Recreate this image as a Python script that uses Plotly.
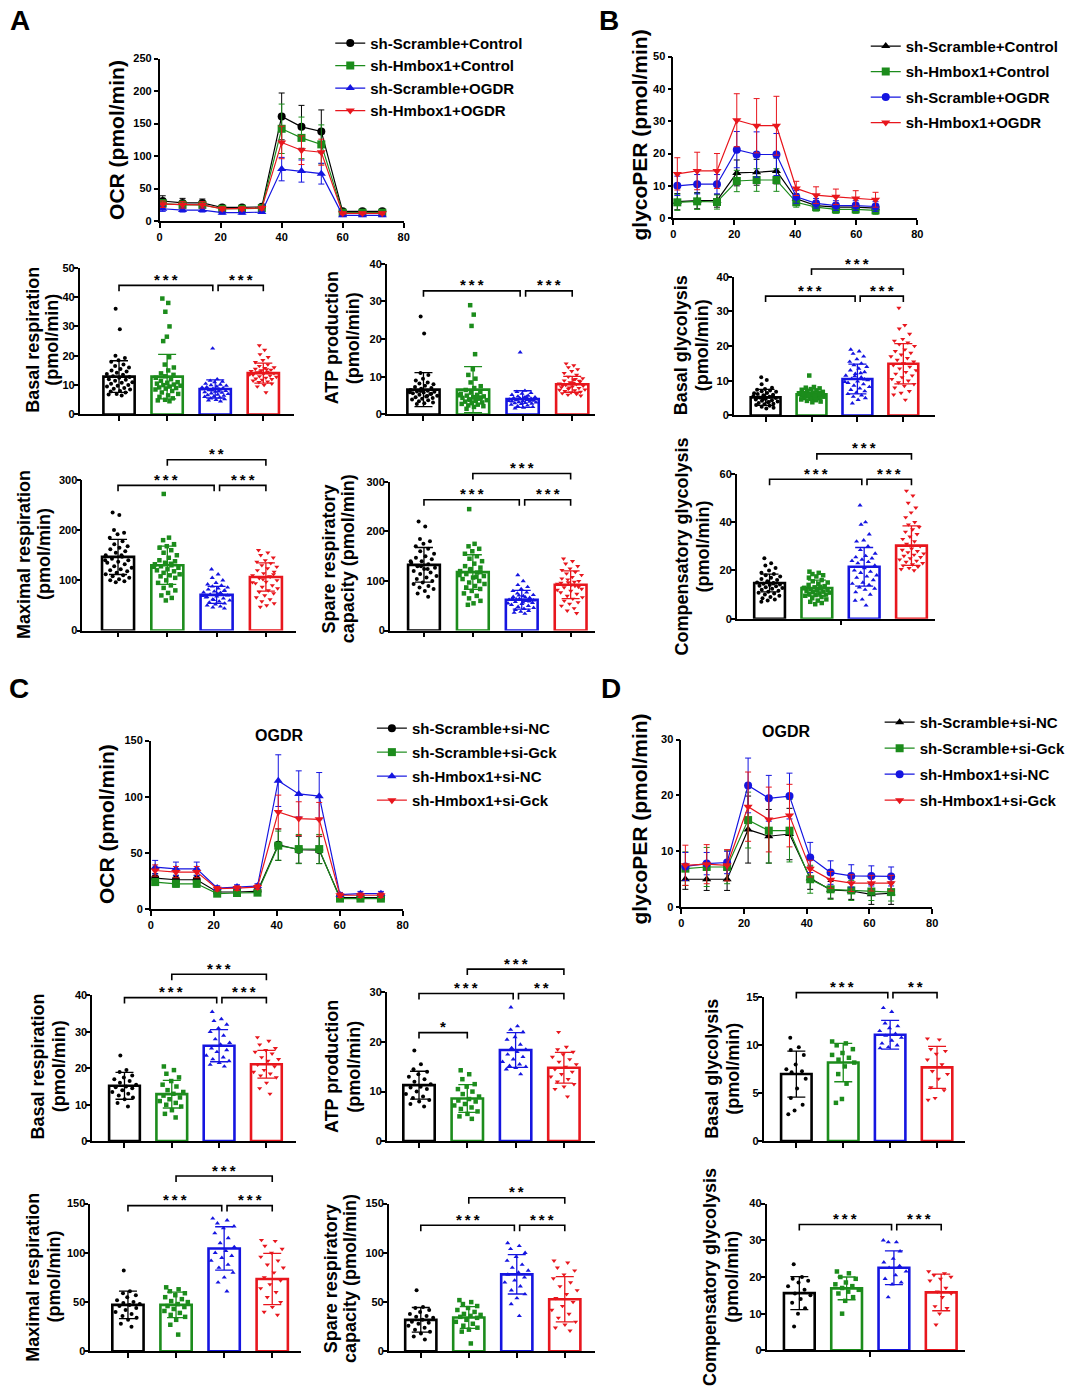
import numpy as np
import plotly.graph_objects as go

W, H = 1080, 1396
FONT = "Arial, 'Liberation Sans', Helvetica, sans-serif"
COLORS = ['#000000', '#1c8c1c', '#1515e0', '#e8161d']
BAR_SYMBOLS = ['circle', 'square', 'triangle-up', 'triangle-down']

# ---------------- line-chart data ----------------
NAMES_AB = ['sh-Scramble+Control', 'sh-Hmbox1+Control', 'sh-Scramble+OGDR', 'sh-Hmbox1+OGDR']
NAMES_CD = ['sh-Scramble+si-NC', 'sh-Scramble+si-Gck', 'sh-Hmbox1+si-NC', 'sh-Hmbox1+si-Gck']
SYM_A = ['circle', 'square', 'triangle-up', 'triangle-down']
SYM_B = ['triangle-up', 'square', 'circle', 'triangle-down']

T_A = [1, 7.5, 14, 20.5, 27, 33.5, 40, 46.5, 53, 60, 66.5, 73]
OCR_A_MEAN = [
    [31, 28, 28, 21, 21, 22, 161, 145, 138, 15, 15, 15],
    [27, 25, 25, 19, 19, 20, 142, 128, 118, 13, 13, 13],
    [19, 17, 17, 13, 13, 14, 80, 77, 73, 9, 9, 9],
    [26, 25, 25, 19, 19, 20, 121, 109, 106, 12, 12, 12],
]
OCR_A_SD = [
    [8, 7, 6, 3, 3, 3, 36, 33, 33, 3, 2, 2],
    [6, 6, 5, 3, 3, 3, 38, 32, 30, 2, 2, 2],
    [4, 3, 3, 2, 2, 2, 18, 17, 16, 2, 2, 2],
    [5, 5, 5, 3, 3, 3, 25, 22, 20, 2, 2, 2],
]

T_B = [1.3, 7.8, 14.3, 20.8, 27.3, 33.8, 40.3, 46.8, 53.3, 59.8, 66.3]
GPER_B_MEAN = [
    [5.1, 5.4, 5.4, 14.0, 14.2, 14.6, 6.0, 3.9, 3.4, 3.4, 3.1],
    [4.9, 5.2, 5.0, 11.5, 11.8, 11.8, 4.9, 3.4, 2.7, 2.7, 2.4],
    [10.0, 10.5, 10.5, 21.2, 19.7, 19.7, 6.6, 4.6, 3.9, 3.9, 3.6],
    [13.7, 14.6, 14.6, 30.3, 28.6, 28.6, 9.2, 7.1, 6.6, 6.1, 5.7],
]
GPER_B_SD = [
    [2.5, 2.5, 2.0, 4.0, 4.0, 4.0, 1.5, 1.2, 1.2, 1.2, 1.2],
    [2.5, 2.5, 2.2, 3.3, 3.5, 3.5, 1.5, 1.2, 1.2, 1.2, 1.2],
    [3.0, 3.0, 3.0, 5.6, 7.0, 6.5, 2.0, 1.5, 1.5, 1.5, 1.5],
    [5.0, 5.8, 5.4, 8.2, 8.4, 9.1, 2.2, 2.6, 2.4, 2.4, 2.3],
]

T_C = [1.4, 8.0, 14.6, 21.1, 27.4, 33.9, 40.5, 47.0, 53.5, 60.1, 66.6, 73.1]
OCR_C_MEAN = [
    [27.6, 26.2, 26.2, 15.3, 15.3, 15.9, 57.4, 52.9, 52.6, 10.3, 10.3, 10.3],
    [24.1, 22.6, 22.6, 13.8, 14.4, 14.7, 56.5, 53.5, 53.5, 9.4, 9.4, 9.4],
    [37.4, 35.9, 35.9, 18.8, 19.7, 20.6, 114.4, 102.6, 100.6, 12.9, 13.8, 13.8],
    [34.4, 33.0, 33.0, 18.2, 18.8, 19.7, 86.5, 80.6, 80.0, 12.4, 12.4, 12.4],
]
OCR_C_SD = [
    [4, 4, 4, 2, 2, 2, 14, 12, 12, 1.5, 1.5, 1.5],
    [3, 3, 3, 2, 2, 2, 13, 13, 13, 1.5, 1.5, 1.5],
    [6, 6, 6, 2, 2, 2, 23, 20.5, 21, 2, 2, 2],
    [5, 5, 5, 2, 2, 2, 15, 15, 15, 2, 2, 2],
]

T_D = [1.3, 8.1, 14.6, 21.3, 27.9, 34.5, 41.1, 47.6, 54.2, 60.6, 66.9]
GPER_D_MEAN = [
    [5.0, 5.0, 5.0, 13.9, 12.7, 13.1, 5.2, 3.1, 2.9, 2.3, 2.5],
    [6.9, 7.2, 7.2, 15.6, 13.7, 13.7, 5.0, 3.2, 3.0, 2.8, 2.7],
    [7.3, 7.8, 8.0, 21.8, 19.5, 19.9, 8.9, 6.2, 5.6, 5.6, 5.5],
    [7.5, 7.7, 7.5, 18.0, 15.7, 16.4, 6.9, 4.9, 4.3, 4.3, 4.3],
]
GPER_D_SD = [
    [1.8, 2.0, 2.0, 6.0, 4.8, 4.6, 2.0, 1.5, 1.5, 1.8, 2.0],
    [3.0, 3.5, 3.0, 5.0, 5.8, 5.6, 2.5, 1.8, 1.8, 1.6, 1.6],
    [2.5, 2.0, 2.0, 4.9, 4.1, 4.1, 2.7, 2.1, 2.0, 1.8, 1.7],
    [3.6, 3.5, 2.8, 6.2, 5.8, 5.6, 1.5, 1.5, 1.5, 1.4, 1.4],
]

# ---------------- bar-chart data ----------------
A_BASAL_MEAN = [12.9, 12.9, 8.7, 14.1]
A_BASAL_SD = [5.4, 7.6, 3.1, 3.4]
A_BASAL_PTS = [
    [36.0, 29.0, 20.0, 19.2, 18.5, 18.0, 17.0, 16.5, 16.0, 15.5, 15.0, 14.6, 14.2, 13.8, 13.5, 13.0, 12.8, 12.5, 12.0, 11.8, 11.5, 11.0, 10.8, 10.5, 10.0, 9.8, 9.5, 9.0, 8.8, 8.5, 8.0, 7.8, 7.5, 7.0, 6.8, 6.5],
    [39.5, 38.0, 35.0, 30.0, 26.5, 25.0, 19.5, 17.0, 16.0, 15.0, 14.0, 13.5, 13.0, 12.5, 12.0, 11.5, 11.0, 10.8, 10.5, 10.2, 10.0, 9.8, 9.5, 9.2, 9.0, 8.8, 8.5, 8.0, 7.5, 7.0, 6.5, 6.0, 5.5, 5.0, 4.8, 4.5],
    [22.5, 12.0, 11.5, 11.2, 11.0, 10.5, 10.2, 10.0, 9.8, 9.5, 9.3, 9.0, 8.8, 8.6, 8.5, 8.3, 8.0, 7.8, 7.6, 7.4, 7.2, 7.0, 6.8, 6.6, 6.4, 6.2, 6.0, 5.8, 5.5, 5.2, 5.0, 4.8, 4.5, 8.2, 9.2, 7.9],
    [23.5, 22.0, 20.5, 19.5, 18.5, 17.8, 17.0, 16.5, 16.0, 15.8, 15.5, 15.2, 15.0, 14.8, 14.5, 14.3, 14.0, 13.8, 13.5, 13.2, 13.0, 12.8, 12.5, 12.2, 12.0, 11.8, 11.5, 11.2, 11.0, 10.5, 10.0, 9.5, 7.5, 14.6, 13.6, 15.4],
]
A_BASAL_TICKS = [0, 10, 20, 30, 40, 50]
A_BASAL_SIG = [(0, 2, 44.0, '***'), (2, 3, 44.0, '***')]

A_ATP_MEAN = [6.6, 6.6, 4.1, 8.0]
A_ATP_SD = [4.5, 6.1, 2.2, 2.1]
A_ATP_PTS = [
    [26.0, 21.5, 11.0, 10.5, 9.5, 9.0, 8.5, 8.2, 8.0, 7.6, 7.3, 7.0, 6.8, 6.5, 6.3, 6.1, 6.0, 5.8, 5.6, 5.4, 5.2, 5.0, 4.8, 4.6, 4.4, 4.2, 4.0, 3.8, 3.5, 3.2, 3.0, 2.8, 5.5, 6.2, 5.9, 4.9],
    [29.0, 26.5, 23.5, 16.0, 12.0, 10.5, 9.5, 8.5, 7.5, 7.0, 6.5, 6.0, 5.8, 5.5, 5.2, 5.0, 4.8, 4.6, 4.4, 4.2, 4.0, 3.8, 3.6, 3.4, 3.2, 3.0, 2.8, 2.6, 2.4, 2.2, 2.0, 1.5, 4.5, 3.9, 5.1, 4.3],
    [16.5, 6.3, 6.0, 5.7, 5.5, 5.2, 5.0, 4.8, 4.6, 4.5, 4.4, 4.2, 4.1, 4.0, 3.9, 3.8, 3.7, 3.6, 3.5, 3.4, 3.3, 3.2, 3.1, 3.0, 2.9, 2.8, 2.6, 2.4, 2.2, 2.0, 1.8, 1.6, 3.9, 4.3, 3.6, 4.7],
    [13.5, 13.0, 12.5, 12.0, 11.5, 11.0, 10.5, 10.0, 9.6, 9.2, 9.0, 8.7, 8.5, 8.2, 8.0, 7.8, 7.6, 7.4, 7.2, 7.0, 6.8, 6.6, 6.4, 6.2, 6.0, 5.8, 5.6, 5.4, 5.2, 5.0, 8.3, 7.7, 8.9, 7.1, 6.5, 9.4],
]
A_ATP_TICKS = [0, 10, 20, 30, 40]
A_ATP_SIG = [(0, 2, 32.8, '***'), (2, 3, 32.8, '***')]

A_MAX_MEAN = [146.7, 130.0, 71.0, 106.6]
A_MAX_SD = [35, 38, 17, 28]
A_MAX_PTS = [
    [235, 230, 200, 195, 192, 185, 178, 172, 168, 165, 162, 158, 155, 150, 147, 143, 140, 137, 135, 132, 128, 125, 122, 120, 118, 115, 112, 110, 108, 105, 102, 100, 98, 96, 140, 150],
    [272, 185, 180, 172, 168, 165, 160, 155, 150, 145, 140, 138, 135, 132, 130, 128, 125, 122, 120, 118, 115, 112, 110, 108, 105, 100, 95, 90, 85, 80, 75, 70, 65, 60, 127, 133],
    [122, 112, 105, 100, 95, 92, 90, 88, 86, 84, 82, 80, 78, 76, 74, 72, 70, 68, 66, 64, 62, 60, 58, 56, 54, 52, 50, 48, 46, 44, 73, 67, 79, 61, 69, 75],
    [160, 155, 150, 145, 140, 137, 134, 130, 127, 124, 120, 117, 114, 110, 107, 104, 100, 97, 94, 90, 87, 84, 80, 77, 74, 70, 66, 62, 58, 54, 50, 47, 112, 102, 96, 108],
]
A_MAX_TICKS = [0, 100, 200, 300]
A_MAX_SIG = [(0, 2, 289, '***'), (2, 3, 289, '***'), (1, 3, 340, '**')]

A_SPARE_MEAN = [132.6, 118.0, 62.3, 92.4]
A_SPARE_SD = [35, 35, 19, 28]
A_SPARE_PTS = [
    [220, 210, 185, 180, 175, 170, 165, 160, 155, 150, 147, 144, 140, 137, 134, 130, 127, 124, 120, 117, 114, 110, 107, 104, 100, 97, 94, 90, 87, 84, 80, 75, 68, 130, 140, 124],
    [245, 175, 170, 165, 160, 155, 150, 145, 140, 135, 130, 127, 124, 120, 117, 114, 110, 107, 104, 100, 97, 94, 90, 87, 84, 80, 75, 70, 65, 60, 55, 52, 118, 122, 112, 108],
    [112, 100, 92, 88, 84, 80, 77, 75, 72, 70, 68, 66, 64, 62, 60, 58, 56, 54, 52, 50, 48, 46, 44, 42, 40, 38, 36, 34, 63, 61, 57, 65, 59, 71, 55, 67],
    [145, 140, 135, 130, 125, 122, 118, 115, 112, 108, 105, 100, 97, 94, 90, 87, 84, 80, 77, 74, 70, 67, 64, 60, 57, 54, 50, 45, 40, 35, 92, 96, 88, 103, 82, 98],
]
A_SPARE_TICKS = [0, 100, 200, 300]
A_SPARE_SIG = [(0, 2, 264, '***'), (2, 3, 264, '***'), (1, 3, 317, '***')]

B_BASAL_MEAN = [5.2, 6.1, 10.5, 14.9]
B_BASAL_SD = [2.3, 1.5, 4.3, 5.8]
B_BASAL_PTS = [
    [11.0, 10.2, 9.0, 8.0, 7.6, 7.4, 7.2, 7.0, 6.8, 6.5, 6.2, 6.0, 5.8, 5.6, 5.4, 5.2, 5.0, 4.8, 4.6, 4.4, 4.2, 4.0, 3.8, 3.6, 3.4, 3.2, 3.0, 2.8, 2.5, 2.2, 2.0, 5.1, 5.5, 4.7, 6.4, 3.9],
    [11.5, 8.2, 8.0, 7.8, 7.6, 7.4, 7.2, 7.0, 6.8, 6.6, 6.5, 6.4, 6.3, 6.2, 6.1, 6.0, 5.9, 5.8, 5.7, 5.6, 5.5, 5.4, 5.3, 5.2, 5.0, 4.8, 4.6, 4.4, 4.2, 4.0, 3.8, 6.2, 6.0, 5.9, 6.4, 5.7],
    [19.0, 18.5, 17.8, 17.0, 16.2, 15.5, 15.0, 14.5, 14.0, 13.5, 13.0, 12.5, 12.0, 11.5, 11.0, 10.6, 10.2, 9.8, 9.4, 9.0, 8.6, 8.2, 7.8, 7.4, 7.0, 6.6, 6.2, 5.8, 5.4, 5.0, 4.5, 3.5, 10.4, 11.3, 9.7, 12.2],
    [31.0, 26.0, 25.0, 23.5, 22.0, 21.5, 21.0, 20.5, 20.0, 19.0, 18.5, 18.0, 17.5, 17.0, 16.5, 16.0, 15.5, 15.0, 14.5, 14.0, 13.5, 13.0, 12.5, 12.0, 11.5, 11.0, 10.5, 10.0, 9.5, 9.0, 8.5, 8.0, 7.0, 6.5, 6.0, 4.5],
]
B_BASAL_TICKS = [0, 10, 20, 30, 40]
B_BASAL_SIG = [(0, 2, 34.4, '***'), (2, 3, 34.4, '***'), (1, 3, 42.2, '***')]

B_COMP_MEAN = [14.8, 12.7, 21.5, 30.3]
B_COMP_SD = [3.7, 3.3, 8.0, 8.2]
B_COMP_PTS = [
    [25.0, 23.0, 22.0, 21.0, 20.0, 19.0, 18.5, 18.0, 17.5, 17.0, 16.5, 16.0, 15.5, 15.0, 14.8, 14.5, 14.2, 14.0, 13.7, 13.4, 13.0, 12.7, 12.4, 12.0, 11.6, 11.2, 10.8, 10.4, 10.0, 9.5, 9.0, 8.5, 8.0, 7.5, 7.0, 14.6],
    [19.5, 19.0, 18.5, 18.0, 17.5, 17.0, 16.0, 15.5, 15.0, 14.5, 14.0, 13.5, 13.0, 12.8, 12.5, 12.2, 12.0, 11.8, 11.5, 11.2, 11.0, 10.8, 10.5, 10.2, 10.0, 9.8, 9.5, 9.0, 8.5, 8.0, 7.5, 7.0, 6.5, 6.0, 12.6, 13.2],
    [47.0, 40.0, 39.0, 35.0, 32.5, 32.0, 30.0, 28.5, 27.0, 26.0, 25.5, 25.0, 24.5, 24.0, 23.5, 23.0, 22.0, 21.0, 20.0, 19.5, 19.0, 18.0, 17.5, 17.0, 16.0, 15.0, 14.5, 14.0, 13.0, 12.5, 12.0, 11.0, 10.0, 8.0, 7.5, 5.5],
    [53.0, 51.0, 48.0, 46.0, 44.0, 42.0, 40.0, 39.0, 38.0, 37.0, 36.0, 35.0, 34.0, 33.0, 32.0, 31.0, 30.0, 29.0, 28.5, 28.0, 27.5, 27.0, 26.5, 26.0, 25.5, 25.0, 24.5, 24.0, 23.5, 23.0, 22.5, 22.0, 21.5, 21.0, 20.5, 20.0],
]
B_COMP_TICKS = [0, 20, 40, 60]
B_COMP_SIG = [(0, 2, 57.8, '***'), (2, 3, 57.8, '***'), (1, 3, 68.3, '***')]

C_BASAL_MEAN = [15.2, 12.9, 26.2, 21.1]
C_BASAL_SD = [3.7, 3.8, 4.4, 3.8]
C_BASAL_PTS = [
    [23.5, 19.5, 19.0, 18.0, 17.5, 17.0, 16.5, 16.0, 15.5, 15.0, 14.8, 14.5, 14.0, 13.5, 13.0, 12.5, 12.0, 11.5, 10.5, 9.5],
    [20.5, 19.5, 18.5, 17.5, 16.5, 15.5, 15.0, 14.0, 13.5, 13.0, 12.5, 12.0, 11.5, 11.0, 10.5, 10.0, 9.5, 8.5, 7.5, 6.5],
    [35.5, 33.5, 33.0, 32.0, 31.0, 30.0, 29.0, 28.0, 27.0, 26.5, 25.5, 25.0, 24.5, 23.5, 23.0, 22.5, 22.0, 21.5, 21.0, 20.5],
    [28.5, 27.5, 26.5, 25.5, 25.0, 24.5, 24.0, 23.0, 22.5, 22.0, 21.0, 20.5, 19.5, 19.0, 18.5, 18.0, 17.5, 16.0, 14.5, 13.0],
]
C_BASAL_TICKS = [0, 10, 20, 30, 40]
C_BASAL_SIG = [(0, 2, 39.4, '***'), (2, 3, 39.4, '***'), (1, 3, 45.8, '***')]

C_ATP_MEAN = [11.3, 8.6, 18.4, 14.8]
C_ATP_SD = [2.8, 2.8, 3.5, 3.1]
C_ATP_PTS = [
    [18.3, 15.5, 14.5, 14.0, 13.5, 13.0, 12.5, 12.0, 11.5, 11.0, 10.8, 10.5, 10.0, 9.5, 9.0, 8.7, 8.3, 8.0, 7.5, 7.0],
    [14.3, 13.5, 12.5, 11.5, 11.0, 10.5, 10.0, 9.5, 9.0, 8.5, 8.2, 8.0, 7.5, 7.2, 6.8, 6.5, 6.0, 5.5, 5.0, 4.5],
    [27.0, 23.2, 22.5, 22.0, 21.0, 20.5, 19.5, 18.8, 18.5, 18.0, 17.5, 17.0, 16.5, 16.0, 15.5, 15.2, 15.0, 14.8, 14.5, 13.5],
    [22.0, 19.0, 18.5, 18.0, 17.5, 17.0, 16.5, 16.0, 15.5, 15.0, 14.5, 14.0, 13.5, 13.0, 12.5, 12.0, 11.5, 11.0, 10.5, 9.0],
]
C_ATP_TICKS = [0, 10, 20, 30]
C_ATP_SIG = [(0, 1, 21.9, '*'), (0, 2, 29.8, '***'), (2, 3, 29.8, '**'), (1, 3, 34.7, '***')]

C_MAX_MEAN = [47.2, 47.2, 104.5, 73.5]
C_MAX_SD = [14, 13, 22, 26]
C_MAX_PTS = [
    [82, 61, 59, 57, 55, 52, 50, 49, 48, 47, 46, 44, 42, 40, 38, 36, 34, 32, 28, 25],
    [65, 63, 61, 59, 57, 55, 53, 51, 50, 48, 46, 45, 43, 41, 39, 37, 35, 32, 27, 17],
    [135, 133, 130, 127, 125, 120, 115, 110, 106, 102, 100, 97, 95, 92, 88, 85, 80, 75, 70, 61],
    [113, 112, 107, 104, 100, 96, 92, 88, 85, 80, 75, 72, 68, 64, 60, 55, 50, 45, 40, 37],
]
C_MAX_TICKS = [0, 50, 100, 150]
C_MAX_SIG = [(0, 2, 148, '***'), (2, 3, 148, '***'), (1, 3, 178, '***')]

C_SPARE_MEAN = [32.0, 34.4, 78.2, 52.9]
C_SPARE_SD = [12.5, 11, 20, 23]
C_SPARE_PTS = [
    [62, 45, 44, 42, 40, 38, 36, 35, 34, 32, 30, 29, 28, 26, 24, 22, 20, 18, 15, 12],
    [52, 50, 48, 46, 44, 42, 40, 38, 37, 36, 35, 34, 32, 30, 28, 26, 24, 22, 20, 8],
    [110, 107, 104, 100, 96, 92, 88, 85, 82, 80, 78, 75, 72, 70, 66, 62, 58, 54, 48, 36],
    [92, 90, 85, 82, 78, 74, 70, 66, 62, 58, 54, 50, 46, 42, 38, 34, 30, 27, 24, 21],
]
C_SPARE_TICKS = [0, 50, 100, 150]
C_SPARE_SIG = [(0, 2, 128, '***'), (2, 3, 128, '***'), (1, 3, 156, '**')]

D_BASAL_MEAN = [7.0, 8.2, 11.1, 7.7]
D_BASAL_SD = [2.4, 2.0, 1.5, 2.2]
D_BASAL_PTS = [
    [10.8, 9.8, 9.5, 9.0, 8.0, 7.5, 7.3, 7.2, 6.5, 5.5, 4.5, 3.8, 3.2, 2.8],
    [10.4, 10.2, 10.0, 9.6, 9.2, 9.0, 8.7, 8.5, 8.2, 7.8, 7.0, 6.0, 4.4, 4.0],
    [13.9, 13.5, 12.3, 12.0, 11.8, 11.5, 11.2, 11.0, 10.8, 10.5, 10.2, 10.0, 9.8, 9.7],
    [10.7, 10.6, 9.6, 9.4, 9.1, 8.5, 8.0, 7.3, 7.0, 6.5, 5.6, 5.3, 4.5, 4.3],
]
D_BASAL_TICKS = [0, 5, 10, 15]
D_BASAL_SIG = [(0, 2, 15.5, '***'), (2, 3, 15.5, '**')]

D_COMP_MEAN = [15.6, 16.9, 22.5, 15.8]
D_COMP_SD = [4.5, 3.1, 4.6, 5.0]
D_COMP_PTS = [
    [23.5, 20.0, 19.5, 19.0, 18.5, 17.5, 16.5, 15.5, 15.0, 14.0, 13.0, 11.5, 10.0, 6.5],
    [21.5, 21.0, 20.0, 19.5, 18.5, 18.0, 17.5, 17.0, 16.5, 16.0, 15.5, 14.5, 13.5, 10.0],
    [30.0, 29.5, 29.5, 27.0, 25.0, 24.0, 23.0, 22.5, 21.5, 20.5, 19.5, 18.5, 18.0, 14.5],
    [21.5, 21.0, 20.5, 20.0, 19.5, 19.0, 17.0, 16.0, 15.5, 14.5, 12.0, 11.5, 10.0, 7.0],
]
D_COMP_TICKS = [0, 10, 20, 30, 40]
D_COMP_SIG = [(0, 2, 34.3, '***'), (2, 3, 34.3, '***')]

# ---------------- figure building ----------------
fig = go.Figure()
layout = dict(
    width=W, height=H, margin=dict(l=0, r=0, t=0, b=0),
    paper_bgcolor='white', plot_bgcolor='rgba(0,0,0,0)',
    barmode='overlay', showlegend=True,
    font=dict(family=FONT, color='black'),
)
shapes = []
annotations = []
ax_count = [0]


def px2paper(x, y):
    return x / W, 1 - y / H


def axis_style(**kw):
    d = dict(showline=True, linecolor='black', linewidth=1.6, ticks='outside',
             tickcolor='black', tickwidth=1.6, showgrid=False, zeroline=False,
             tickfont=dict(family=FONT, size=11, color='black', weight='bold'),
             fixedrange=True)
    d.update(kw)
    return d


def new_axes(l, r, top, bot, xkw, ykw):
    ax_count[0] += 1
    n = ax_count[0]
    s = '' if n == 1 else str(n)
    layout['xaxis' + s] = axis_style(domain=[l / W, r / W], anchor='y' + s, **xkw)
    layout['yaxis' + s] = axis_style(domain=[1 - bot / H, 1 - top / H], anchor='x' + s, **ykw)
    return 'x' + s, 'y' + s


def text(px, py, t, size, angle=0, xanchor='center', yanchor='middle'):
    x, y = px2paper(px, py)
    annotations.append(dict(x=x, y=y, xref='paper', yref='paper', text=t, showarrow=False,
                            textangle=angle, xanchor=xanchor, yanchor=yanchor,
                            font=dict(family=FONT, size=size, color='black', weight='bold')))


def line_panel(geom, times, means, sds, names, symbols, legend_id, yticks, ytitle, ytitle_pos):
    l, r, top, bot = geom
    xa, ya = new_axes(l, r, top, bot,
                      dict(range=[0, 80], tickvals=[0, 20, 40, 60, 80], ticklen=5),
                      dict(range=[0, yticks[-1]], tickvals=yticks, ticklen=4))
    for k in range(4):
        fig.add_trace(go.Scatter(
            x=times, y=means[k], xaxis=xa, yaxis=ya, name=names[k],
            mode='lines+markers', legend=legend_id, legendgroup=legend_id + str(k),
            line=dict(color=COLORS[k], width=1.2),
            marker=dict(symbol=symbols[k], size=8, color=COLORS[k]),
            error_y=dict(type='data', array=sds[k], color=COLORS[k], thickness=1, width=3),
            cliponaxis=False, hoverinfo='skip'))
    text(ytitle_pos[0], ytitle_pos[1], ytitle, 21, angle=-90)


def jitter(vals, ymax, spread=0.29):
    v = np.asarray(vals, dtype=float)
    win = ymax * 0.06
    cnt = np.array([(np.abs(v - x) < win).sum() for x in v], dtype=float)
    scale = np.sqrt(cnt / cnt.max())
    base = ((np.arange(len(v)) * 0.6180339887) % 1.0 - 0.5) * 2
    return base * spread * scale


def bar_panel(geom, means, sds, pts, yticks, sig, title_lines, title_x, title_y, xticks=(0, 1, 2, 3)):
    l, c0, sp, r, top, bot = geom
    ymax = yticks[-1]
    xr = [(l - c0) / sp, (r - c0) / sp]
    xa, ya = new_axes(l, r, top, bot,
                      dict(range=xr, tickvals=list(xticks), ticklen=5, showticklabels=False),
                      dict(range=[0, ymax], tickvals=yticks, ticklen=4, ticklabelstandoff=-3,
                           tickfont=dict(family=FONT, size=11, color='black', weight='bold')))
    for k in range(4):
        fig.add_trace(go.Bar(
            x=[k], y=[means[k]], width=0.65, xaxis=xa, yaxis=ya, showlegend=False,
            marker=dict(color='white', line=dict(color=COLORS[k], width=2.6)),
            error_y=dict(type='data', array=[sds[k]], color=COLORS[k], thickness=1.3, width=9),
            hoverinfo='skip'))
    for k in range(4):
        xs = k + jitter(pts[k], ymax)
        fig.add_trace(go.Scatter(
            x=xs, y=pts[k], xaxis=xa, yaxis=ya, mode='markers', showlegend=False,
            marker=dict(symbol=BAR_SYMBOLS[k], size=4.5 if k else 4, color=COLORS[k]),
            cliponaxis=False, hoverinfo='skip'))

    def to_px(xv, yv):
        return c0 + xv * sp, bot - yv / ymax * (bot - top)

    for (i, j, yv, lab) in sig:
        x1 = i + (0.06 if i == 2 else 0.0)
        x2 = j - (0.05 if j == 2 else 0.0)
        p1x, py = to_px(x1, yv)
        p2x, _ = to_px(x2, yv)
        a1, b1 = px2paper(p1x, py + 6)
        a2, b2 = px2paper(p1x, py)
        a3, b3 = px2paper(p2x, py)
        a4, b4 = px2paper(p2x, py + 6)
        shapes.append(dict(type='path', xref='paper', yref='paper',
                           path=f'M {a1},{b1} L {a2},{b2} L {a3},{b3} L {a4},{b4}',
                           line=dict(color='black', width=1.6)))
        text((p1x + p2x) / 2, py - 6, '\u2009'.join(lab), 15)
    for line, tx in zip(title_lines, title_x):
        text(tx, title_y, line, 18, angle=-90)


# ---- Panel A ----
line_panel((158, 404, 53, 217), T_A, OCR_A_MEAN, OCR_A_SD, NAMES_AB, SYM_A, 'legend',
           [0, 50, 100, 150, 200, 250], 'OCR (pmol/min)', (115, 135))
bar_panel((77.3, 117, 48.5, 293, 264, 412), A_BASAL_MEAN, A_BASAL_SD, A_BASAL_PTS,
          A_BASAL_TICKS, A_BASAL_SIG, ['Basal respiration', '(pmol/min)'], (30, 50), 337)
bar_panel((387, 424, 50, 597, 260, 412), A_ATP_MEAN, A_ATP_SD, A_ATP_PTS,
          A_ATP_TICKS, A_ATP_SIG, ['ATP production', '(pmol/min)'], (332, 353), 335)
bar_panel((80, 116, 49.7, 295, 478, 630), A_MAX_MEAN, A_MAX_SD, A_MAX_PTS,
          A_MAX_TICKS, A_MAX_SIG, ['Maximal respiration', '(pmol/min)'], (21, 42), 553)
bar_panel((390, 424.5, 49.3, 597, 480, 630), A_SPARE_MEAN, A_SPARE_SD, A_SPARE_PTS,
          A_SPARE_TICKS, A_SPARE_SIG, ['Spare respiratory', 'capacity (pmol/min)'], (329, 348), 558)

# ---- Panel B ----
line_panel((676, 922, 51, 214), T_B, GPER_B_MEAN, GPER_B_SD, NAMES_AB, SYM_B, 'legend2',
           [0, 10, 20, 30, 40, 50], 'glycoPER (pmol/min)', (642, 130))
bar_panel((737, 769, 46.3, 940, 273, 413), B_BASAL_MEAN, B_BASAL_SD, B_BASAL_PTS,
          B_BASAL_TICKS, B_BASAL_SIG, ['Basal glycolysis', '(pmol/min)'], (684, 705), 342)
bar_panel((740, 773, 47.7, 940, 472, 618), B_COMP_MEAN, B_COMP_SD, B_COMP_PTS,
          B_COMP_TICKS, B_COMP_SIG, ['Compensatory glycolysis', '(pmol/min)'], (685, 706), 545,
          xticks=(1.5,))

# ---- Panel C ----
line_panel((149, 403, 741, 911), T_C, OCR_C_MEAN, OCR_C_SD, NAMES_CD, SYM_A, 'legend3',
           [0, 50, 100, 150], 'OCR (pmol/min)', (105, 825))
bar_panel((90, 122.5, 47.7, 295, 998, 1145), C_BASAL_MEAN, C_BASAL_SD, C_BASAL_PTS,
          C_BASAL_TICKS, C_BASAL_SIG, ['Basal respiration', '(pmol/min)'], (35, 56), 1070)
bar_panel((387, 419.5, 48.7, 597, 995, 1145), C_ATP_MEAN, C_ATP_SD, C_ATP_PTS,
          C_ATP_TICKS, C_ATP_SIG, ['ATP production', '(pmol/min)'], (332, 354), 1070)
bar_panel((88, 126, 48.5, 300, 1208, 1357), C_MAX_MEAN, C_MAX_SD, C_MAX_PTS,
          C_MAX_TICKS, C_MAX_SIG, ['Maximal respiration', '(pmol/min)'], (30, 51), 1282)
bar_panel((389, 421.3, 48.4, 597, 1208, 1357), C_SPARE_MEAN, C_SPARE_SD, C_SPARE_PTS,
          C_SPARE_TICKS, C_SPARE_SIG, ['Spare respiratory', 'capacity (pmol/min)'], (331, 350), 1284)

# ---- Panel D ----
line_panel((684, 937, 740, 909), T_D, GPER_D_MEAN, GPER_D_SD, NAMES_CD, SYM_B, 'legend4',
           [0, 10, 20, 30], 'glycoPER (pmol/min)', (642, 820))
bar_panel((767, 800, 47.3, 970, 1000, 1145), D_BASAL_MEAN, D_BASAL_SD, D_BASAL_PTS,
          D_BASAL_TICKS, D_BASAL_SIG, ['Basal glycolysis', '(pmol/min)'], (715, 736), 1072)
bar_panel((770, 803, 47.7, 970, 1208, 1356), D_COMP_MEAN, D_COMP_SD, D_COMP_PTS,
          D_COMP_TICKS, D_COMP_SIG, ['Compensatory glycolysis', '(pmol/min)'], (713, 735), 1282,
          xticks=(1.5,))

# ---- panel letters & titles ----
text(17, 15, 'A', 28)
text(611, 15, 'B', 28)
text(16, 688, 'C', 28)
text(613, 688, 'D', 28)
text(278, 736, 'OGDR', 16)
text(790, 732, 'OGDR', 16)

# ---- legends ----
def legend_cfg(px, py, gap):
    x, y = px2paper(px, py)
    return dict(x=x, y=y, xanchor='left', yanchor='top', bgcolor='rgba(0,0,0,0)',
                font=dict(family=FONT, size=15, color='black', weight='bold'),
                traceorder='grouped', tracegroupgap=gap, itemwidth=30)

layout['legend'] = legend_cfg(330, 21, 0)
layout['legend2'] = legend_cfg(870, 24, 3)
layout['legend3'] = legend_cfg(372, 712, 1.5)
layout['legend4'] = legend_cfg(884, 706, 3.5)

layout['shapes'] = shapes
layout['annotations'] = annotations
fig.update_layout(**layout)
fig.write_html('out.html',
               config={'displayModeBar': False},
               post_script="document.body.style.margin='0';document.body.style.padding='0';"
                           "document.body.style.overflow='hidden';")
